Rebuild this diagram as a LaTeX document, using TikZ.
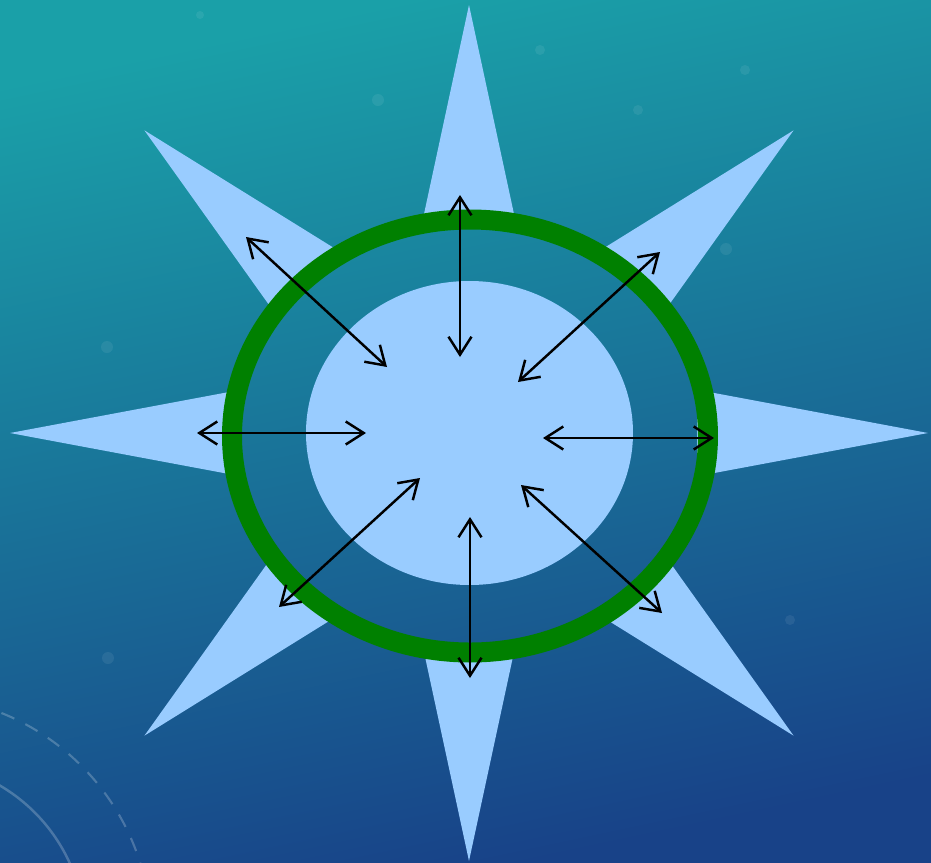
\documentclass[tikz,border=0pt]{standalone}
\usepackage{xcolor}
\usepackage{tikz}
\usetikzlibrary{arrows.meta, calc}

\definecolor{bgtop}{RGB}{26,160,168}
\definecolor{bgbot}{RGB}{24,66,136}
\definecolor{starblue}{RGB}{153,204,255}
\definecolor{ringgreen}{RGB}{0,128,0}

\begin{document}
\begin{tikzpicture}[
    x=0.02cm, y=-0.02cm,
    starfill/.style={fill=starblue},
    ring/.style={draw=ringgreen, line width=0.4cm},
    deco/.style={draw=white, opacity=0.22},
    sparkle/.style={fill=white, opacity=0.07},
    arrow/.style={{Straight Barb[length=3.6mm, width=4.6mm]}-{Straight Barb[length=3.6mm, width=4.6mm]}, line width=1.4pt, black}
]
\useasboundingbox (0,0) rectangle (931,863);

% Background
\shade[top color=bgtop, bottom color=bgbot, shading angle=12] (0,0) rectangle (931,863);
\draw[deco, dashed, line width=1.2pt, dash pattern=on 8pt off 7pt] (-87,934) circle [radius=238];
\draw[deco, line width=1.4pt] (-87,934) circle [radius=172];
\foreach \px/\py/\pr in {378/100/6, 107/347/6, 540/50/5, 108/658/6, 790/620/5, 726/249/6, 638/110/5, 745/70/5, 200/15/4}
    \fill[sparkle] (\px,\py) circle [radius=\pr];

% Star points
\begin{scope}[shift={(469,433)}, xscale=459, yscale=428]
\foreach \a in {0,45,...,315}
    \fill[starfill, rotate=\a] (1,0) -- (0.497,0.101) -- (0.497,-0.101) -- cycle;
\end{scope}

% Inner ellipse and ring
\fill[starblue] (469.5,433) ellipse [x radius=163.5, y radius=152];
\draw[ring] (470,436) ellipse [x radius=238, y radius=216.5];

% Arrow ends (outer / inner)
\coordinate (o1) at (460,195);  \coordinate (i1) at (460,357);
\coordinate (o2) at (246,237);  \coordinate (i2) at (387,367);
\coordinate (o3) at (660,252);  \coordinate (i3) at (518,382);
\coordinate (o4) at (197,433);  \coordinate (i4) at (366,433);
\coordinate (o5) at (714,438);  \coordinate (i5) at (543,438);
\coordinate (o6) at (279,607);  \coordinate (i6) at (420,478);
\coordinate (o7) at (470,678);  \coordinate (i7) at (470,517);
\coordinate (o8) at (662,613);  \coordinate (i8) at (521,485);

% Arrows
\foreach \k in {1,...,8}
    \draw[arrow] (o\k) -- (i\k);
\end{tikzpicture}
\end{document}
